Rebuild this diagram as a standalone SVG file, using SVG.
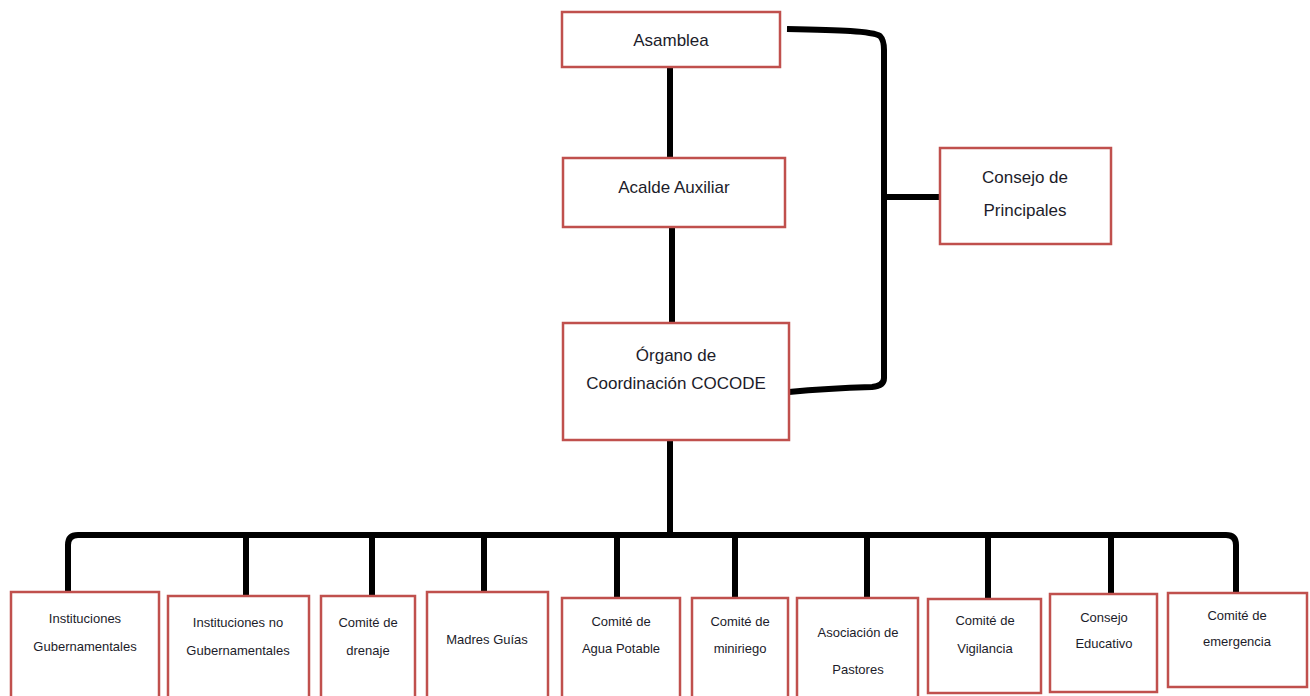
<svg xmlns="http://www.w3.org/2000/svg" width="1310" height="696" viewBox="0 0 1310 696">
<style>
.box{fill:#fff;stroke:#C0504D;stroke-width:2.5}
.ln{fill:none;stroke:#000;stroke-width:6;stroke-linejoin:round}
.t{font-family:"Liberation Sans",Arial,sans-serif;fill:#1c1c2a;text-anchor:middle}
.big{font-size:17px}
.sm{font-size:13px}
</style>
<rect width="1310" height="696" fill="#fff"/>
<g id="connectors">
<line class="ln" x1="670" y1="67" x2="670" y2="158"/>
<line class="ln" x1="672" y1="227" x2="672" y2="323"/>
<path class="ln" d="M787 29 C840 30 872 31 880 36 Q884 40 884 50 L884 378 Q884 386 872 387 C840 388 810 390 789 392"/>
<line class="ln" x1="884" y1="197" x2="940" y2="197"/>
<line class="ln" x1="670" y1="440" x2="670" y2="535"/>
<path class="ln" d="M68 592 L68 545 Q68 535 78 535 L1226 535 Q1236 535 1236 545 L1236 592"/>
<line class="ln" x1="246" y1="535" x2="246" y2="596"/>
<line class="ln" x1="372" y1="535" x2="372" y2="596"/>
<line class="ln" x1="484" y1="535" x2="484" y2="592"/>
<line class="ln" x1="617" y1="535" x2="617" y2="598"/>
<line class="ln" x1="735" y1="535" x2="735" y2="598"/>
<line class="ln" x1="867" y1="535" x2="867" y2="598"/>
<line class="ln" x1="988" y1="535" x2="988" y2="598"/>
<line class="ln" x1="1111" y1="535" x2="1111" y2="594"/>
</g>
<g id="asamblea"><rect class="box" x="562" y="12" width="218" height="55"/><text class="t big" x="671" y="46">Asamblea</text></g>
<g id="acalde"><rect class="box" x="563" y="158" width="222" height="69"/><text class="t big" x="674" y="193">Acalde Auxiliar</text></g>
<g id="organo"><rect class="box" x="563" y="323" width="226" height="117"/><text class="t big" x="676" y="361">Órgano de</text><text class="t big" x="676" y="389">Coordinación COCODE</text></g>
<g id="consejo-principales"><rect class="box" x="940" y="148" width="171" height="96"/><text class="t big" x="1025" y="183">Consejo de</text><text class="t big" x="1025" y="216">Principales</text></g>
<g id="inst-gub"><rect class="box" x="11" y="592" width="148" height="110"/><text class="t sm" x="85" y="623">Instituciones</text><text class="t sm" x="85" y="651">Gubernamentales</text></g>
<g id="inst-nogub"><rect class="box" x="168" y="596" width="141" height="106"/><text class="t sm" x="238" y="627">Instituciones no</text><text class="t sm" x="238" y="655">Gubernamentales</text></g>
<g id="drenaje"><rect class="box" x="321" y="596" width="94" height="106"/><text class="t sm" x="368" y="627">Comité de</text><text class="t sm" x="368" y="655">drenaje</text></g>
<g id="madres"><rect class="box" x="427" y="592" width="121" height="110"/><text class="t sm" x="487" y="644">Madres Guías</text></g>
<g id="agua"><rect class="box" x="562" y="598" width="118" height="104"/><text class="t sm" x="621" y="626">Comité de</text><text class="t sm" x="621" y="653">Agua Potable</text></g>
<g id="miniriego"><rect class="box" x="692" y="598" width="96" height="104"/><text class="t sm" x="740" y="626">Comité de</text><text class="t sm" x="740" y="653">miniriego</text></g>
<g id="pastores"><rect class="box" x="797" y="598" width="121" height="104"/><text class="t sm" x="858" y="637">Asociación de</text><text class="t sm" x="858" y="674">Pastores</text></g>
<g id="vigilancia"><rect class="box" x="928" y="599" width="113" height="94"/><text class="t sm" x="985" y="625">Comité de</text><text class="t sm" x="985" y="653">Vigilancia</text></g>
<g id="educativo"><rect class="box" x="1050" y="594" width="107" height="98"/><text class="t sm" x="1104" y="622">Consejo</text><text class="t sm" x="1104" y="648">Educativo</text></g>
<g id="emergencia"><rect class="box" x="1168" y="593" width="139" height="94"/><text class="t sm" x="1237" y="620">Comité de</text><text class="t sm" x="1237" y="646">emergencia</text></g>
</svg>
